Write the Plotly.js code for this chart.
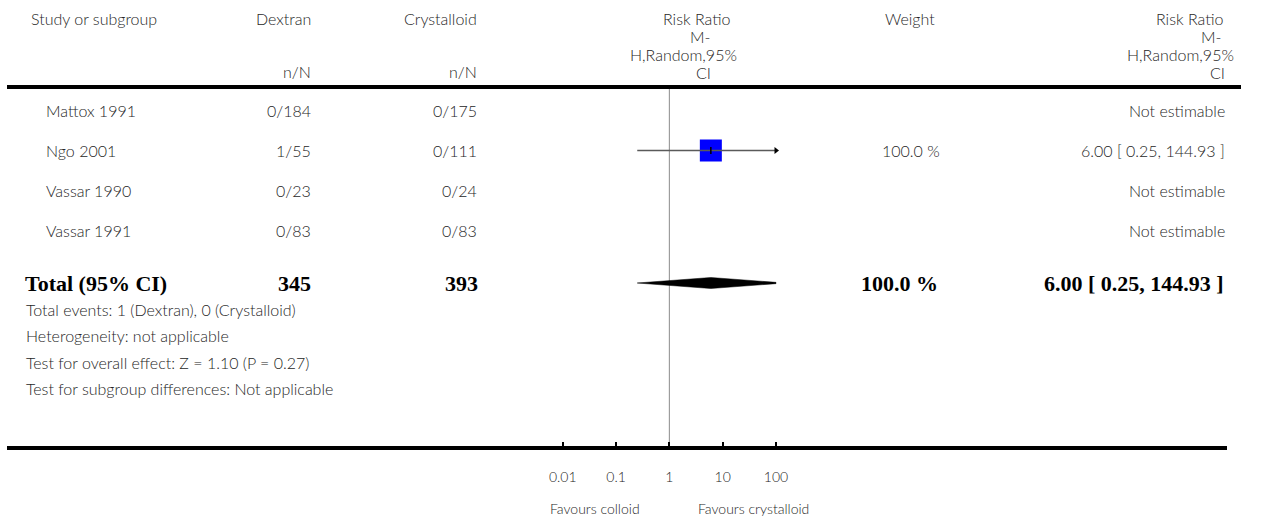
<!DOCTYPE html>
<html>
<head>
<meta charset="utf-8">
<script src="https://cdn.plot.ly/plotly-3.0.1.min.js"></script>
<style>
  html, body { margin: 0; padding: 0; background: #fff; }
  #chart { width: 1270px; height: 521px; }
</style>
</head>
<body>
<div id="chart"></div>
<script>
// ---- Study data: Dextran vs Crystalloid, risk ratio (M-H, random, 95% CI) ----
const studies       = ["Mattox 1991", "Ngo 2001", "Vassar 1990", "Vassar 1991"];
const dextranEvents = [0, 1, 0, 0];
const dextranTotal  = [184, 55, 23, 83];
const crystEvents   = [0, 0, 0, 0];
const crystTotal    = [175, 111, 24, 83];
const studyRR       = [null, 6.00, null, null];
const studyLow      = [null, 0.25, null, null];
const studyHigh     = [null, 144.93, null, null];
const studyWeight   = [null, 100.0, null, null];

// ---- Pooled result ----
const totalLabel    = "Total (95% CI)";
const totalDextran  = 345;
const totalCryst    = 393;
const pooledRR      = 6.00;
const pooledLow     = 0.25;
const pooledHigh    = 144.93;
const pooledWeight  = 100.0;

const summaryLines = [
  "Total events: 1 (Dextran), 0 (Crystalloid)",
  "Heterogeneity: not applicable",
  "Test for overall effect: Z = 1.10 (P = 0.27)",
  "Test for subgroup differences: Not applicable"
];

// ---- Axis ticks ----
const tickVals = [0.01, 0.1, 1, 10, 100];
const tickText = ["0.01", "0.1", "1", "10", "100"];
const favourLeft  = "Favours colloid";
const favourRight = "Favours crystalloid";

// ---- Page geometry (pixels) ----
const W = 1270, H = 521;
const FOREST_L = 562.7, FOREST_R = 776;      // pixel positions of 0.01 and 100
const HEADER_Y = 18, SUBHEAD_Y = 71, HEADER_RULE = 87;
const HEAD_LINE_STEP = 18.3;
const ROW_TOP = 110.5, ROW_STEP = 40;
const TOTAL_Y = 283;
const SUMMARY_TOP = 309, SUMMARY_STEP = 26.5;
const AXIS_Y = 448;
const FAVOUR_Y = 508;
const SQUARE_MAX = 22;
const DIAMOND_HALF = 5.5;

const rowY = i => ROW_TOP + i * ROW_STEP;
const px = x => x / W;

const sans  = { family: "'Lato Light', Lato, 'Open Sans', sans-serif", size: 16, color: "#262626" };
const bold  = { family: "'Liberation Serif', 'DejaVu Serif', serif", size: 22, color: "#000", weight: 700 };

const fmt2 = v => v.toFixed(2);
const ciText = (e, l, h) => `${fmt2(e)} [ ${fmt2(l)}, ${fmt2(h)} ]`;

const ann = [];
function txt(text, x, y, anchor, font) {
  ann.push({ text, x: px(x), y, xref: "paper", yref: "y", xanchor: anchor, yanchor: "middle",
             showarrow: false, font, align: anchor });
}

// Column headers
txt("Study or subgroup", 29, HEADER_Y, "left", sans);
txt("Dextran", 313, HEADER_Y, "right", sans);
txt("Crystalloid", 479, HEADER_Y, "right", sans);
txt("n/N", 313, SUBHEAD_Y, "right", sans);
txt("n/N", 479, SUBHEAD_Y, "right", sans);
txt("Weight", 883, HEADER_Y, "left", sans);
const rrHead = ["Risk Ratio", "M-", "H,Random,95%", "CI"];
const rrHeadMidRight = [732, 712, 739, 713];
const rrHeadColRight = [1225, 1223, 1236, 1227];
rrHead.forEach((t, k) => {
  txt(t, rrHeadMidRight[k], HEADER_Y + k * HEAD_LINE_STEP, "right", sans);
  txt(t, rrHeadColRight[k], HEADER_Y + k * HEAD_LINE_STEP, "right", sans);
});

// Study rows
studies.forEach((s, i) => {
  const y = rowY(i);
  txt(s, 44, y, "left", sans);
  txt(`${dextranEvents[i]}/${dextranTotal[i]}`, 313, y, "right", sans);
  txt(`${crystEvents[i]}/${crystTotal[i]}`, 479, y, "right", sans);
  if (studyRR[i] === null) {
    txt("Not estimable", 1227, y, "right", sans);
  } else {
    txt(`${studyWeight[i].toFixed(1)} %`, 942, y, "right", sans);
    txt(ciText(studyRR[i], studyLow[i], studyHigh[i]), 1227, y, "right", sans);
  }
});

// Total row
txt(totalLabel, 23, TOTAL_Y, "left", bold);
txt(String(totalDextran), 313, TOTAL_Y, "right", bold);
txt(String(totalCryst), 480, TOTAL_Y, "right", bold);
txt(`${pooledWeight.toFixed(1)} %`, 940, TOTAL_Y, "right", bold);
txt(ciText(pooledRR, pooledLow, pooledHigh), 1226, TOTAL_Y, "right", bold);

// Summary statistics
summaryLines.forEach((t, k) => txt(t, 24, SUMMARY_TOP + k * SUMMARY_STEP, "left", sans));

// Favours labels
txt(favourLeft, 595, FAVOUR_Y, "center", { ...sans, size: 14 });
txt(favourRight, 753, FAVOUR_Y, "center", { ...sans, size: 14 });

// ---- Traces ----
const traces = [];

// Line of no effect
traces.push({ x: [1, 1], y: [HEADER_RULE, AXIS_Y], mode: "lines", type: "scatter",
  line: { color: "#8c8c8c", width: 1 }, hoverinfo: "skip" });

const xMin = tickVals[0], xMax = tickVals[tickVals.length - 1];
studies.forEach((s, i) => {
  if (studyRR[i] === null) return;
  const y = rowY(i);
  // weighted square
  traces.push({ x: [studyRR[i]], y: [y], mode: "markers", type: "scatter",
    marker: { symbol: "square", size: SQUARE_MAX * studyWeight[i] / 100, color: "#0000ff", line: { width: 0 } },
    hoverinfo: "skip" });
  // confidence interval, cut at the ends of the scale
  traces.push({ x: [Math.max(studyLow[i], xMin), Math.min(studyHigh[i], xMax)], y: [y, y],
    mode: "lines", type: "scatter", line: { color: "#5a5a5a", width: 1.6 }, hoverinfo: "skip" });
  // point estimate tick
  traces.push({ x: [studyRR[i]], y: [y], mode: "markers", type: "scatter",
    marker: { symbol: "line-ns", size: 5, line: { color: "#000", width: 1.5 } }, hoverinfo: "skip" });
  // arrows where the interval runs off scale
  if (studyHigh[i] > xMax) {
    traces.push({ x: [xMax], y: [y], mode: "markers", type: "scatter", cliponaxis: false,
      marker: { symbol: "triangle-right", size: 6, color: "#000" }, hoverinfo: "skip" });
  }
  if (studyLow[i] < xMin) {
    traces.push({ x: [xMin], y: [y], mode: "markers", type: "scatter", cliponaxis: false,
      marker: { symbol: "triangle-left", size: 6, color: "#000" }, hoverinfo: "skip" });
  }
});

// Pooled diamond, cut where it crosses the end of the scale
function diamondPath(lo, est, hi, yc, h) {
  const L = Math.log10, a = L(xMin), b = L(xMax);
  const pts = [[L(lo), yc], [L(est), yc - h], [L(hi), yc], [L(est), yc + h], [L(lo), yc]];
  const out = [];
  for (let k = 0; k < pts.length - 1; k++) {
    const [x0, y0] = pts[k], [x1, y1] = pts[k + 1];
    const inside = x => x >= a - 1e-9 && x <= b + 1e-9;
    if (inside(x0)) out.push([x0, y0]);
    for (const edge of [a, b]) {
      if ((x0 - edge) * (x1 - edge) < 0) {
        const t = (edge - x0) / (x1 - x0);
        out.push([edge, y0 + t * (y1 - y0)]);
      }
    }
  }
  out.push(out[0]);
  return { x: out.map(p => Math.pow(10, p[0])), y: out.map(p => p[1]) };
}
const dia = diamondPath(pooledLow, pooledRR, pooledHigh, TOTAL_Y, DIAMOND_HALF);
traces.push({
  x: dia.x, y: dia.y, mode: "lines", type: "scatter", fill: "toself", fillcolor: "#000",
  line: { color: "#000", width: 0.5 }, hoverinfo: "skip"
});

// A hair of padding so the end ticks are kept by the axis
const PAD = 0.02;
const pxPerDecade = (FOREST_R - FOREST_L) / (Math.log10(xMax) - Math.log10(xMin));

const layout = {
  width: W, height: H,
  margin: { l: 0, r: 0, t: 0, b: 0, pad: 0 },
  paper_bgcolor: "#fff", plot_bgcolor: "rgba(0,0,0,0)",
  showlegend: false,
  xaxis: {
    type: "log", range: [Math.log10(xMin) - PAD, Math.log10(xMax) + PAD],
    domain: [px(FOREST_L - PAD * pxPerDecade), px(FOREST_R + PAD * pxPerDecade)],
    anchor: "free", position: 1 - AXIS_Y / H,
    tickmode: "array", tickvals: tickVals, ticktext: tickText,
    ticks: "inside", ticklen: 6, tickwidth: 2, tickcolor: "#000",
    ticklabelstandoff: 19,
    tickfont: { family: sans.family, size: 14, color: "#262626" },
    showline: false, showgrid: false, zeroline: false, fixedrange: true
  },
  yaxis: {
    range: [H, 0], domain: [0, 1], visible: false, fixedrange: true
  },
  shapes: [
    { type: "line", xref: "paper", yref: "y", x0: px(7), x1: px(1241), y0: HEADER_RULE, y1: HEADER_RULE,
      line: { color: "#000", width: 4 } },
    { type: "line", xref: "paper", yref: "y", x0: px(7), x1: px(1227), y0: AXIS_Y, y1: AXIS_Y,
      line: { color: "#000", width: 4 } }
  ],
  annotations: ann
};

Plotly.newPlot("chart", traces, layout, { displayModeBar: false, staticPlot: true });
</script>
</body>
</html>
